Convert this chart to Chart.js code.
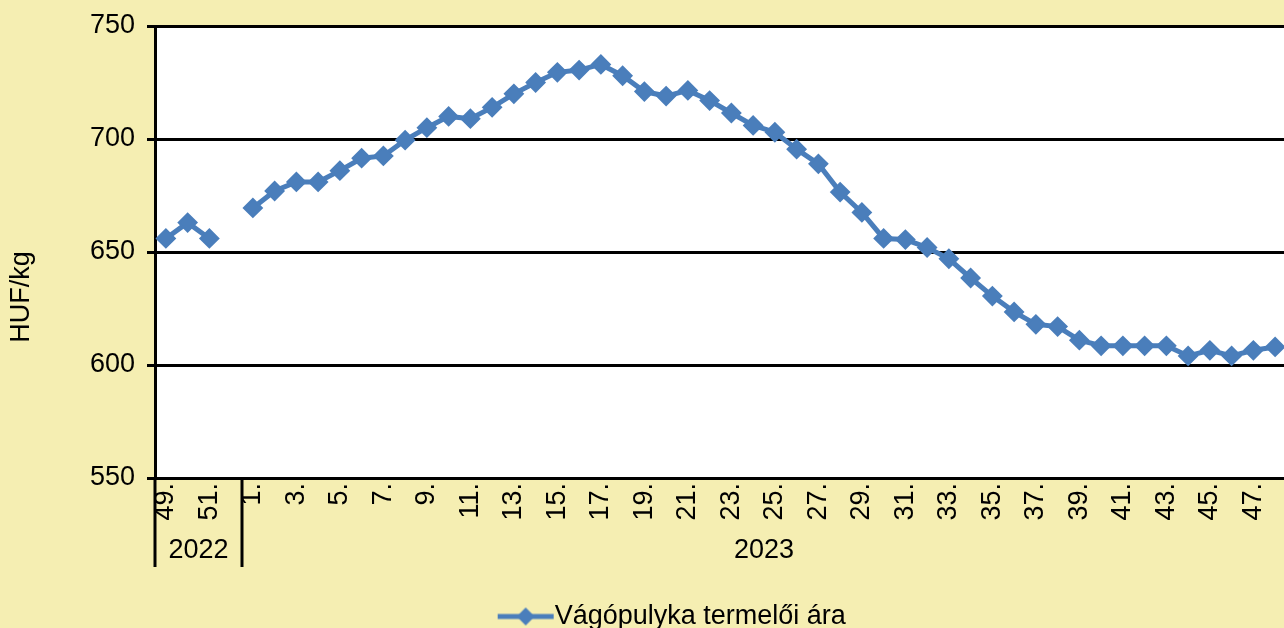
<!DOCTYPE html>
<html>
<head>
<meta charset="utf-8">
<script src="https://cdn.jsdelivr.net/npm/chart.js@4.4.1/dist/chart.umd.min.js"></script>
<style>
  html, body { margin: 0; padding: 0; background: #F5EEB2; overflow: hidden; }
  #wrap { width: 1284px; height: 628px; overflow: hidden; }
</style>
</head>
<body>
<!-- the source chart is cropped on the right/bottom, so the canvas is a bit bigger than the window -->
<div id="wrap"><canvas id="chart" width="1337" height="640"></canvas></div>
<script>
// weeks: end of 2022, then 2023
const weeks2022 = ["49.", "50.", "51.", "52."];
const weeks2023 = ["1.", "2.", "3.", "4.", "5.", "6.", "7.", "8.", "9.", "10.",
  "11.", "12.", "13.", "14.", "15.", "16.", "17.", "18.", "19.", "20.",
  "21.", "22.", "23.", "24.", "25.", "26.", "27.", "28.", "29.", "30.",
  "31.", "32.", "33.", "34.", "35.", "36.", "37.", "38.", "39.", "40.",
  "41.", "42.", "43.", "44.", "45.", "46.", "47.", "48."];
const years = ["2022", "2023"];

// HUF/kg
const prices2022 = [656, 663, 656, null];
const prices2023 = [669.5, 677, 681, 681, 686, 691.5, 692.5, 699.5, 705, 710,
  709, 714, 720, 725, 729.5, 730.5, 733, 728, 721, 719,
  721.5, 717, 711.5, 706, 703, 695.5, 689, 676.5, 667.5, 656,
  655.5, 652, 647, 638.5, 630.5, 623.5, 618, 617, 611, 608.5,
  608.5, 608.5, 608.5, 604, 606.5, 604, 606.5, 608];

const yTicks = [550, 600, 650, 700, 750];
const seriesName = "Vágópulyka termelői ára";
const yTitle = "HUF/kg";

const labels = weeks2022.concat(weeks2023);
const values = prices2022.concat(prices2023);
const groups = [weeks2022.length, weeks2023.length];

const BLUE = "#4A7EBB";
const FONT = "Liberation Sans, Arial, sans-serif";
const FS = 27;

// legend marker: line with a diamond
const legendMark = document.createElement("canvas");
legendMark.width = 58; legendMark.height = 20;
(function () {
  const c = legendMark.getContext("2d");
  c.strokeStyle = BLUE; c.lineWidth = 5;
  c.beginPath(); c.moveTo(1, 10); c.lineTo(57, 10); c.stroke();
  c.fillStyle = BLUE;
  c.beginPath(); c.moveTo(29, 1); c.lineTo(38, 10); c.lineTo(29, 19); c.lineTo(20, 10); c.closePath(); c.fill();
})();

// white plot area, year group labels + separators, y title
const extras = {
  id: "extras",
  beforeDraw(chart) {
    const { ctx, chartArea: a } = chart;
    ctx.save();
    ctx.fillStyle = "#fff";
    ctx.fillRect(a.left, a.top, a.right - a.left, a.bottom - a.top);
    ctx.restore();
  },
  afterDraw(chart) {
    const { ctx, chartArea, scales } = chart;
    const x = scales.x;
    const bottom = chartArea.bottom;
    ctx.save();
    ctx.strokeStyle = "#000"; ctx.lineWidth = 3;
    ctx.fillStyle = "#000";
    ctx.font = FS + "px " + FONT;
    ctx.textAlign = "center"; ctx.textBaseline = "middle";
    let start = 0;
    let left = chartArea.left;
    groups.forEach((n, gi) => {
      const end = start + n - 1;
      const right = end + 1 < labels.length
        ? (x.getPixelForValue(end) + x.getPixelForValue(end + 1)) / 2
        : chartArea.right;
      ctx.beginPath(); ctx.moveTo(left, bottom); ctx.lineTo(left, bottom + 89); ctx.stroke();
      ctx.fillText(years[gi], (left + right) / 2, bottom + 73);
      left = right; start += n;
    });
    ctx.translate(22, 297);
    ctx.rotate(-Math.PI / 2);
    ctx.fillText(yTitle, 0, 0);
    ctx.restore();
  }
};

new Chart(document.getElementById("chart"), {
  type: "line",
  data: {
    labels,
    datasets: [{
      label: seriesName,
      data: values,
      borderColor: BLUE,
      backgroundColor: BLUE,
      borderWidth: 5,
      pointStyle: "rectRot",
      pointRadius: 9,
      pointBorderWidth: 2,
      pointHoverRadius: 9,
      spanGaps: false,
      tension: 0
    }]
  },
  options: {
    responsive: false,
    animation: false,
    layout: { padding: { top: 26, right: 51, bottom: 0, left: 70 } },
    plugins: {
      tooltip: { enabled: false },
      legend: {
        position: "bottom",
        labels: {
          usePointStyle: true,
          pointStyle: legendMark,
          pointStyleWidth: 31,
          color: "#000",
          font: { family: FONT, size: FS },
          padding: 4
        }
      }
    },
    scales: {
      x: {
        type: "category",
        offset: true,
        grid: { display: false, drawTicks: false },
        border: { display: true, color: "#000", width: 3 },
        ticks: {
          autoSkip: false,
          maxRotation: 90,
          minRotation: 90,
          padding: 5,
          color: "#000",
          font: { family: FONT, size: FS },
          callback: (v, i) => (i % 2 === 0 ? labels[i] : "")
        },
        afterFit: s => { s.height = 121; s.paddingLeft = 0; s.paddingRight = 0; }
      },
      y: {
        min: yTicks[0],
        max: yTicks[yTicks.length - 1],
        afterBuildTicks: s => { s.ticks = yTicks.map(v => ({ value: v })); },
        grid: { color: "#000", lineWidth: 3, tickLength: 8 },
        border: { display: true, color: "#000", width: 3 },
        ticks: {
          padding: 12,
          color: "#000",
          font: { family: FONT, size: FS }
        },
        afterFit: s => { s.width = 85; s.paddingTop = 0; s.paddingBottom = 0; }
      }
    }
  },
  plugins: [extras]
});
</script>
</body>
</html>
